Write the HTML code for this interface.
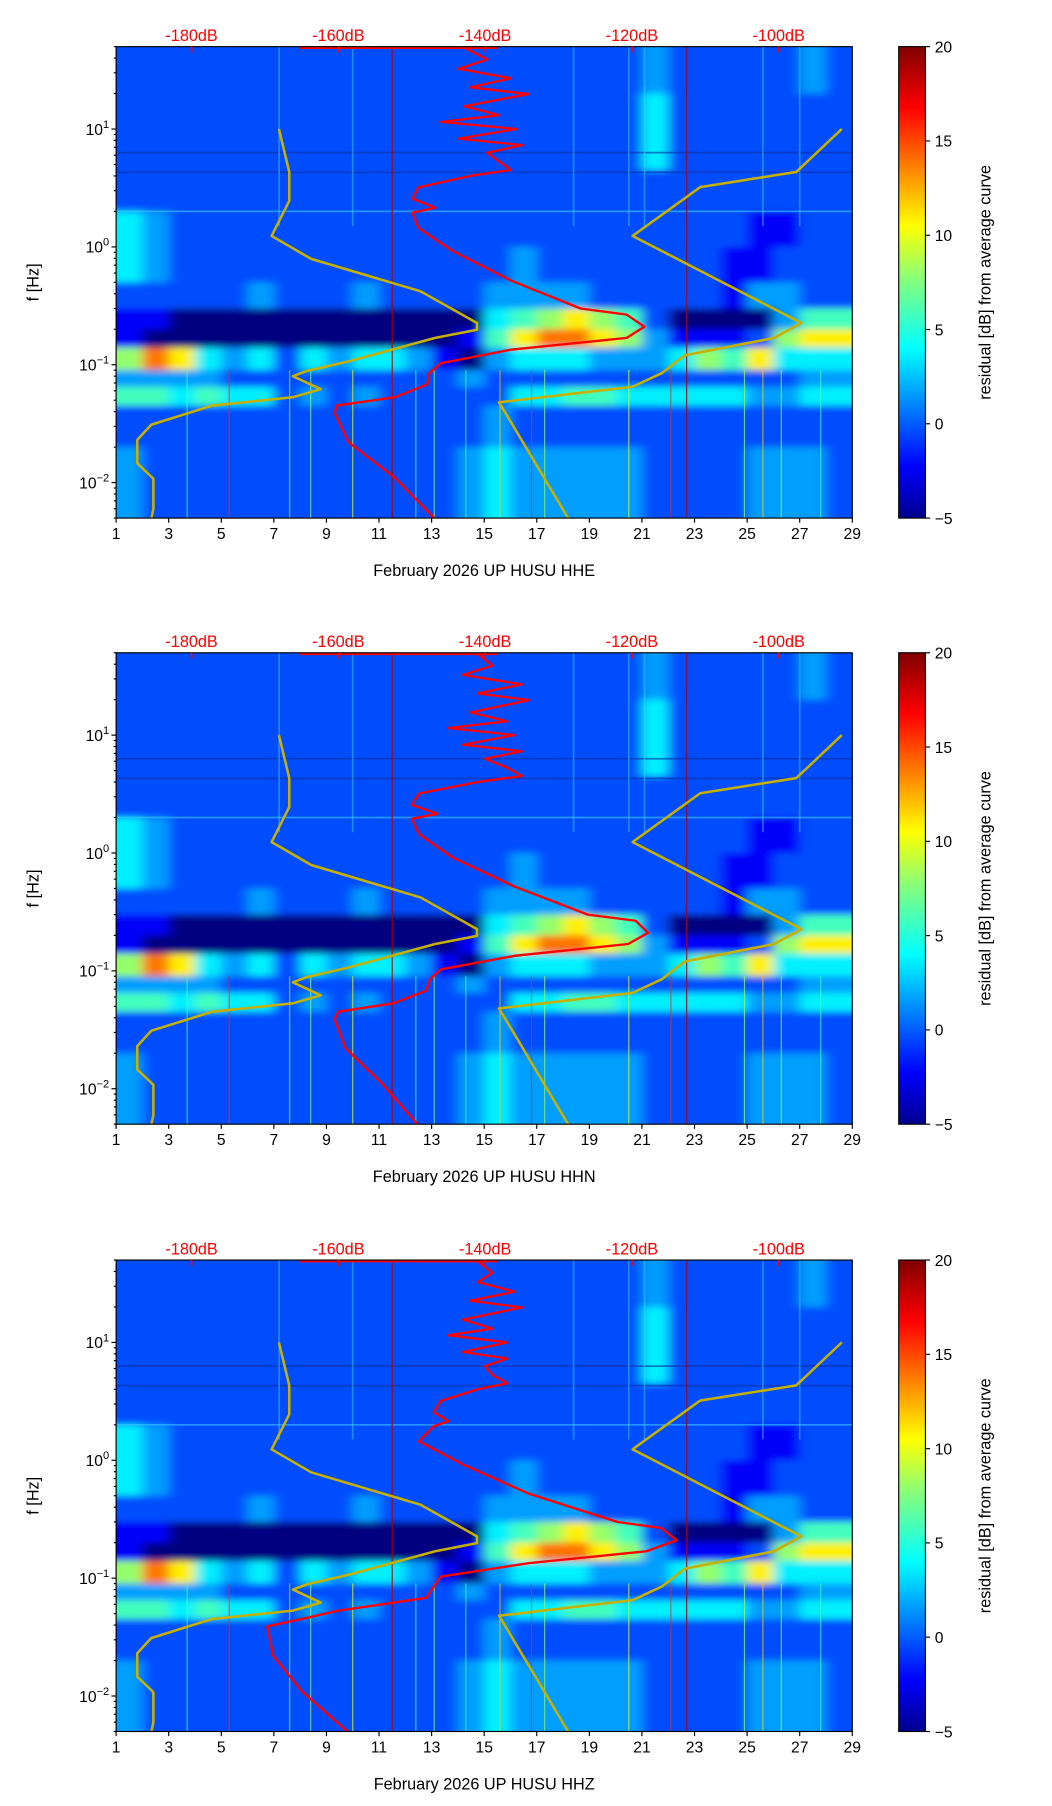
<!DOCTYPE html>
<html><head><meta charset="utf-8"><style>
html,body{margin:0;padding:0;background:#fff;}
svg{display:block;font-family:"Liberation Sans","DejaVu Sans",sans-serif;}
</style></head><body>
<svg id="fig" width="1052" height="1806" viewBox="0 0 906 1555" xmlns="http://www.w3.org/2000/svg">
<defs>
<linearGradient id="jet" x1="0" y1="1" x2="0" y2="0">
<stop offset="0" stop-color="#00008f"/><stop offset="0.11" stop-color="#0000ff"/><stop offset="0.36" stop-color="#00ffff"/><stop offset="0.5" stop-color="#80ff80"/><stop offset="0.62" stop-color="#ffff00"/><stop offset="0.87" stop-color="#ff0000"/><stop offset="1" stop-color="#800000"/>
</linearGradient>
<filter id="blur" x="-5%" y="-5%" width="110%" height="110%"><feGaussianBlur stdDeviation="5 3"/></filter>
<clipPath id="axclip"><rect x="100" y="0" width="634" height="406"/></clipPath>
</defs>
</svg>
<script>
// ---- data ----
const dayTicks=[1,3,5,7,9,11,13,15,17,19,21,23,25,27,29];
const dbTicks=[-180,-160,-140,-120,-100];
const cbTicks=[-5,0,5,10,15,20];
const panelNames=["HHE","HHN","HHZ"];
const bandEdges=[60,20,4.5,2.0,1.0,0.5,0.3,0.2,0.14,0.09,0.065,0.045,0.02,0.004];
const gridRows=[
"2222222222222222222232222232",
"2222222222222222222242222222",
"2222222222222222222222222222",
"4322222222222222222222221122",
"4322222222222223222222211222",
"2222232223222233332222213322",
"1100000000000045676520000355",
"1000000000000157887631112677",
"6874342434431034443334657444",
"3333222222222322222222222233",
"5545442323222224455444443344",
"2222222222222232222222222222",
"3222222222222343333322223332"];
const cellLevels=[-5,-2,0,2,4,6,8,11,14,17];
const streakDays=[3.7,5.3,7.6,8.4,10.0,12.4,13.1,14.3,15.6,16.8,17.3,20.5,22.1,24.9,25.6,26.3,27.8];
const streakVals=[6,16,8,8,10,6,8,6,12,16,8,10,16,8,12,8,6];
const fullLineDays=[11.5,22.7];
const upperStreakDays=[7.2,10.0,18.4,20.5,21.1,25.6,27.0];
const nlnmF=[10,4.32,2.45,1.24,0.79,0.42,0.226,0.198,0.169,0.107,0.089,0.080,0.062,0.053,0.045,0.031,0.023,0.0146,0.0108,0.006,0.0049];
const nlnmDb=[-168.1,-166.7,-166.7,-169.1,-163.7,-148.8,-141.1,-141.1,-146.8,-158.6,-164.2,-166.2,-162.4,-166.2,-177.2,-185.5,-187.4,-187.4,-185.2,-185.2,-185.5];
const nhnmF=[10,4.32,3.21,1.24,0.226,0.169,0.12,0.085,0.065,0.048,0.0049];
const nhnmDb=[-91.4,-97.6,-110.7,-119.9,-96.9,-100.6,-112.8,-115.9,-119.9,-138.1,-128.6];
const psdF=[48.9,39,32.5,27,22.6,19.8,15.6,13.1,11.5,10,8.3,7.3,6.3,5.3,4.5,4.0,3.2,2.56,2.15,1.95,1.45,0.92,0.52,0.30,0.266,0.21,0.169,0.134,0.103,0.085,0.068,0.053,0.045,0.039,0.022,0.011,0.0049];
const psdE=[-142.8,-139.7,-143.6,-136.5,-142,-134.1,-142.8,-138.1,-146,-135.7,-143.6,-134.9,-139.7,-138.1,-136.5,-142,-149.1,-149.9,-146.8,-149.9,-149.1,-144.4,-136.5,-127,-120.7,-118.3,-120.7,-136.5,-146,-147.6,-147.9,-152.3,-160.2,-160.5,-158.6,-152.3,-146.8];
const psdN=[-141,-139,-143,-135,-141,-134,-142,-137,-145,-136,-143,-135,-140,-137,-135,-141,-149,-150,-146.5,-150,-149,-144.5,-136,-126,-119.5,-117.8,-120.5,-136,-146,-147.5,-148,-152.5,-160,-160.5,-159,-154,-149.1];
const psdZ=[-141,-139,-141,-136,-142,-135,-143,-139,-145,-137,-143,-137,-140,-139,-137,-141,-146,-147,-145,-147,-149,-143,-134,-122,-116,-113.9,-118,-134,-146,-147,-148,-160,-165,-169.7,-168.9,-165,-158.6];
const psdSets=[psdE,psdN,psdZ];
// ---- scales ----
const NS="http://www.w3.org/2000/svg";
const svg=document.getElementById('fig');
const X0=100,X1=734,H=406;
const xDay=d=>X0+(d-1)*(X1-X0)/28;
const yF=f=>(Math.log10(50)-Math.log10(f))*101.5;
const xDb=v=>165+(v+180)*6.32;
function jet(v){let t=Math.max(0,Math.min(1,(v+5)/25));
 const r=Math.max(0,Math.min(1,1.5-Math.abs(4*t-3))),g=Math.max(0,Math.min(1,1.5-Math.abs(4*t-2))),b=Math.max(0,Math.min(1,1.5-Math.abs(4*t-1)));
 return `rgb(${Math.round(r*255)},${Math.round(g*255)},${Math.round(b*255)})`;}
function el(tag,attrs,parent){const e=document.createElementNS(NS,tag);for(const k in attrs)e.setAttribute(k,attrs[k]);(parent||svg).appendChild(e);return e;}
function txt(s,attrs,parent){const t=el('text',attrs,parent);t.textContent=s;return t;}
const tops=[40,562,1085];
tops.forEach((top,p)=>{
 const g=el('g',{transform:`translate(0,${top})`});
 
 
 const clip=el('g',{'clip-path':'url(#axclip)'},g);
 const hm=el('g',{filter:'url(#blur)'},clip);
 
 
 gridRows.forEach((row,ri)=>{
  const y0=yF(bandEdges[ri]),y1=yF(bandEdges[ri+1]);
  for(let c=0;c<28;c++){
   let xa=xDay(c+1),xb=xDay(c+2);
   if(c===0)xa-=15; if(c===27)xb+=15;
   const r=el('rect',{x:xa,y:y0,width:xb-xa+0.5,height:y1-y0+0.5,fill:jet(cellLevels[+row[c]])},hm);
   
   
  }
 });
 [2.0,4.3,6.3].forEach((f,i)=>{const l=el('line',{x1:X0,x2:X1,y1:yF(f),y2:yF(f),stroke:i===0?'#3cc8ff':'#1030a0','stroke-width':1.5,opacity:0.6},clip);
  });
 upperStreakDays.forEach(d=>{const l=el('line',{x1:xDay(d),x2:xDay(d),y1:0,y2:yF(1.5),stroke:'#40d0ff','stroke-width':1.5,opacity:0.45},clip);
  });
 streakDays.forEach((d,i)=>{const l=el('line',{x1:xDay(d),x2:xDay(d),y1:yF(0.09),y2:H,stroke:jet(streakVals[i]),'stroke-width':1,opacity:0.7},clip);
  });
 fullLineDays.forEach(d=>{const l=el('line',{x1:xDay(d),x2:xDay(d),y1:0,y2:H,stroke:'#b00000','stroke-width':1,opacity:0.9},clip);
  });
 const mk=(fs,ds,col,w,name)=>{const pl=el('polyline',{points:fs.map((f,i)=>xDb(ds[i]).toFixed(1)+','+yF(f).toFixed(1)).join(' '),fill:'none',stroke:col,'stroke-width':w,'stroke-linejoin':'round'},clip);
  };
 mk(nlnmF,nlnmDb,'#c8b000',2.2,'nlnm-curve');
 mk(nhnmF,nhnmDb,'#c8b000',2.2,'nhnm-curve');
 mk(psdF,psdSets[p],'#ff0000',2,'psd-curve');
 const tl=el('line',{x1:258,x2:428,y1:1,y2:1,stroke:'#ff0000','stroke-width':2},g);
 
 const fr=el('rect',{x:X0,y:0,width:X1-X0,height:H,fill:'none',stroke:'#000','stroke-width':1},g);
 
 dayTicks.forEach(d=>{el('line',{x1:xDay(d),x2:xDay(d),y1:H,y2:H+4,stroke:'#000'},g);
  const t=txt(String(d),{x:xDay(d),y:H+18,'text-anchor':'middle','font-size':13.5},g);
  });
 const xl=txt('February 2026 UP HUSU  '+panelNames[p],{x:417,y:H+50,'text-anchor':'middle','font-size':14},g);
 
 for(let e=-3;e<=1;e++){for(let m=1;m<10;m++){const f=m*Math.pow(10,e);if(f<0.005||f>50)continue;
  el('line',{x1:X0-(m===1?4:2),x2:X0,y1:yF(f),y2:yF(f),stroke:'#000'},g);}}
 [1,0,-1,-2].forEach(e=>{const t=txt('10',{x:X0-6,y:yF(Math.pow(10,e))+5,'text-anchor':'end','font-size':13.5},g);
  const s=el('tspan',{dy:-6,'font-size':9.5},t);s.textContent=e<0?'\u2212'+(-e):String(e);
  });
 const yl=txt('f [Hz]',{x:0,y:0,transform:`translate(33,${H/2}) rotate(-90)`,'text-anchor':'middle','font-size':14},g);
 
 dbTicks.forEach(v=>{el('line',{x1:xDb(v),x2:xDb(v),y1:0,y2:5,stroke:'#ff0000','stroke-width':1.5},g);
  const t=txt(v+'dB',{x:xDb(v),y:-5,'text-anchor':'middle','font-size':14,fill:'#ff0000'},g);
  });
 const cb=el('rect',{x:774,y:0,width:23,height:H,fill:'url(#jet)',stroke:'#000','stroke-width':1},g);
 
 cbTicks.forEach(v=>{const y=H-(v+5)/25*H;el('line',{x1:797,x2:801,y1:y,y2:y,stroke:'#000'},g);
  const t=txt(v<0?'\u2212'+(-v):String(v),{x:805,y:y+5,'font-size':13.5},g);
  });
 const cl=txt('residual [dB] from average curve',{x:0,y:0,transform:`translate(853,${H/2}) rotate(-90)`,'text-anchor':'middle','font-size':14},g);
 
});
</script>
</body></html>
